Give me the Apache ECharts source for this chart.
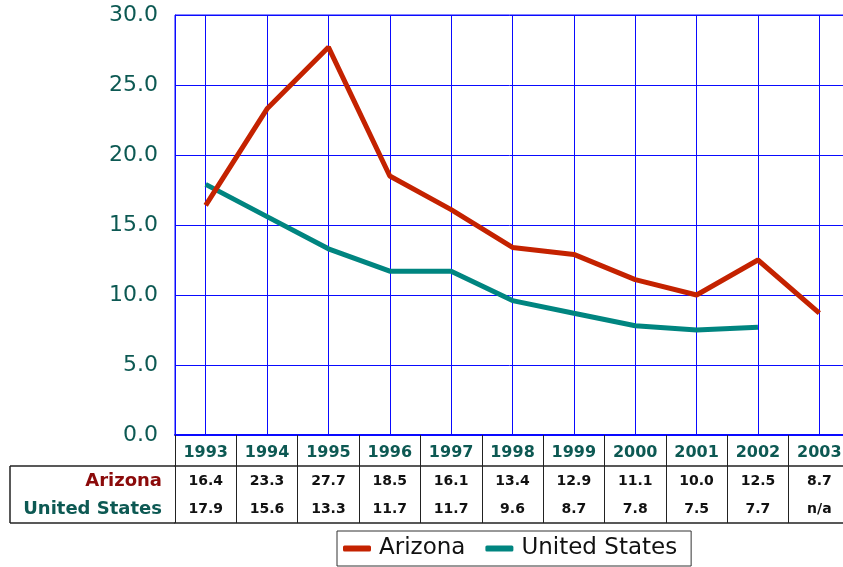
<!DOCTYPE html>
<html>
<head>
<meta charset="utf-8">
<script src="https://cdn.jsdelivr.net/npm/echarts@6/dist/echarts.min.js"></script>
<style>
  html, body { margin: 0; padding: 0; background: #fff; }
  #chart { width: 843px; height: 567px; }
</style>
</head>
<body>
<div id="chart"></div>
<script>
// data
const years = ['1993', '1994', '1995', '1996', '1997', '1998', '1999', '2000', '2001', '2002', '2003']
const arizona = [16.4, 23.3, 27.7, 18.5, 16.1, 13.4, 12.9, 11.1, 10.0, 12.5, 8.7]
const unitedStates = [17.9, 15.6, 13.3, 11.7, 11.7, 9.6, 8.7, 7.8, 7.5, 7.7, null]
const yTicks = [0, 5, 10, 15, 20, 25, 30]

const blue = '#0a0aff'
const tableLine = '#222'
const teal = '#0d5953'

const fmt = v => (v === null ? 'n/a' : v.toFixed(1))

const chart = echarts.init(document.getElementById('chart'))

const option = {
  animation: false,
  textStyle: { fontFamily: 'DejaVu Sans' },
  grid: {
    left: 175, top: 15, width: 675, height: 420,
    outerBoundsMode: 'none', containLabel: false,
    show: true, borderColor: blue, borderWidth: 1
  },
  legend: {
    left: 337, top: 531,
    padding: [6, 14, 6, 6],
    borderColor: '#333', borderWidth: 1,
    icon: 'roundRect', itemWidth: 28, itemHeight: 6, itemGap: 20,
    textStyle: { fontSize: 23, color: '#111', fontFamily: 'DejaVu Sans', padding: [0, 0, 0, 3] },
    data: ['Arizona', 'United States']
  },
  xAxis: [
    {
      type: 'category', data: years, boundaryGap: true,
      axisLine: { show: true, lineStyle: { color: blue, width: 2 } },
      axisTick: { show: true, interval: 0, length: 88, lineStyle: { color: tableLine, width: 1 } },
      axisLabel: { interval: 0, fontSize: 16, fontWeight: 'bold', color: teal, margin: 10 },
      splitLine: { show: false }
    },
    {
      type: 'category', data: years, position: 'bottom', offset: 31,
      axisLine: { show: true, lineStyle: { color: tableLine, width: 1.5 } },
      axisTick: { show: false },
      axisLabel: {
        interval: 0, fontSize: 14, fontWeight: 'bold', color: '#111', margin: 8,
        formatter: (v, i) => fmt(arizona[i])
      }
    },
    {
      type: 'category', data: years, position: 'bottom', offset: 88,
      axisLine: { show: true, lineStyle: { color: tableLine, width: 1.5 } },
      axisTick: { show: false },
      axisLabel: {
        interval: 0, inside: true, fontSize: 14, fontWeight: 'bold', color: '#111', margin: 7,
        formatter: (v, i) => fmt(unitedStates[i])
      }
    }
  ],
  yAxis: {
    type: 'value', min: yTicks[0], max: yTicks[yTicks.length - 1], interval: 5,
    axisLine: { show: true, lineStyle: { color: blue, width: 1 } },
    axisTick: { show: false },
    axisLabel: { fontSize: 22, color: teal, margin: 17, formatter: v => v.toFixed(1) },
    splitLine: { lineStyle: { color: blue, width: 1 } }
  },
  series: [
    {
      name: 'Arizona', type: 'line', data: arizona, showSymbol: false, symbol: 'none', z: 4,
      color: '#c42200',
      lineStyle: { width: 5, color: '#c42200' },
      markLine: {
        silent: true, symbol: ['none', 'none'], z: 1,
        label: { show: false },
        lineStyle: { color: blue, type: 'solid', width: 1 },
        data: years.map(y => ({ xAxis: y }))
      }
    },
    {
      name: 'United States', type: 'line', data: unitedStates, showSymbol: false, symbol: 'none', z: 3,
      color: '#008580',
      lineStyle: { width: 5, color: '#008580' }
    }
  ],
  graphic: [
    // left part of the data table
    { type: 'line', shape: { x1: 10, y1: 466, x2: 175, y2: 466 }, style: { stroke: tableLine, lineWidth: 1.5 } },
    { type: 'line', shape: { x1: 10, y1: 523, x2: 175, y2: 523 }, style: { stroke: tableLine, lineWidth: 1.5 } },
    { type: 'line', shape: { x1: 10, y1: 466, x2: 10, y2: 523 }, style: { stroke: tableLine, lineWidth: 1.5 } },
    {
      type: 'text', x: 162, y: 481,
      style: { text: 'Arizona', font: 'bold 18px "DejaVu Sans"', fill: '#8b0a0a', align: 'right', verticalAlign: 'middle' }
    },
    {
      type: 'text', x: 162, y: 509,
      style: { text: 'United States', font: 'bold 18px "DejaVu Sans"', fill: teal, align: 'right', verticalAlign: 'middle' }
    }
  ]
}

chart.setOption(option)
</script>
</body>
</html>
